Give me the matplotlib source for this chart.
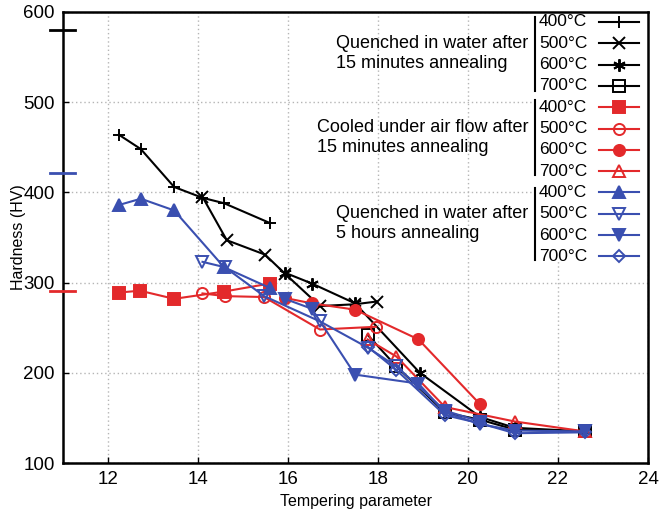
import matplotlib
matplotlib.use('Agg')
import matplotlib.pyplot as plt
from matplotlib.lines import Line2D
from matplotlib.patches import Rectangle

plt.rcParams['font.family'] = ['Liberation Sans', 'DejaVu Sans']

# --- data ---
temps = ['400°C', '500°C', '600°C', '700°C']
group_lines = [
    ['Quenched in water after', '15 minutes annealing'],
    ['Cooled under air flow after', '15 minutes annealing'],
    ['Quenched in water after', '5 hours annealing'],
]

# quenched in water after 15 min annealing (black)
q15_400_x = [12.24, 12.73, 13.47, 14.10, 14.58, 15.60]
q15_400_y = [464, 448, 406, 394, 388, 366]
q15_500_x = [14.10, 14.64, 15.49, 15.93, 16.71, 17.49, 17.97]
q15_500_y = [395, 347, 331, 310, 274, 276, 279]
q15_600_x = [15.93, 16.53, 17.49, 18.93, 20.27, 21.04, 22.60]
q15_600_y = [311, 299, 277, 200, 151, 139, 135]
q15_700_x = [17.77, 18.41, 19.49, 20.27, 21.04, 22.60]
q15_700_y = [242, 207, 156, 148, 137, 135]

# cooled under air flow after 15 min annealing (red)
a15_400_x = [12.25, 12.71, 13.47, 14.57, 15.60]
a15_400_y = [289, 291, 282, 290, 299]
a15_500_x = [14.10, 14.60, 15.47, 16.71, 17.95]
a15_500_y = [288, 285, 284, 248, 251]
a15_600_x = [15.93, 16.53, 17.49, 18.90, 20.27]
a15_600_y = [283, 277, 270, 237, 165]
a15_700_x = [17.77, 18.41, 19.49, 21.04, 22.60]
a15_700_y = [237, 218, 162, 146, 135]

# quenched in water after 5 h annealing (blue)
q5_400_x = [12.24, 12.73, 13.47, 14.58, 15.60]
q5_400_y = [386, 393, 380, 317, 294]
q5_500_x = [14.10, 14.60, 15.47, 16.71, 17.77, 18.41, 19.49, 20.27]
q5_500_y = [323, 317, 285, 257, 228, 207, 158, 146]
q5_600_x = [15.93, 16.53, 17.49, 18.90, 19.49, 20.27, 21.04, 22.60]
q5_600_y = [282, 271, 198, 188, 156, 143, 136, 135]
q5_700_x = [17.77, 18.41, 19.49, 20.27, 21.04, 22.60]
q5_700_y = [229, 203, 153, 144, 133, 134]

# as-quenched hardness marks on the left axis
ref_y = [580, 421, 291]

BLACK = 'black'
RED = '#e3292b'
BLUE = '#3a4fb0'

series = [
    (q15_400_x, q15_400_y, BLACK, '+', BLACK),
    (q15_500_x, q15_500_y, BLACK, 'x', BLACK),
    (q15_600_x, q15_600_y, BLACK, (6, 2, 0), BLACK),
    (q15_700_x, q15_700_y, BLACK, 's', 'none'),
    (a15_400_x, a15_400_y, RED, 's', RED),
    (a15_500_x, a15_500_y, RED, 'o', 'none'),
    (a15_600_x, a15_600_y, RED, 'o', RED),
    (a15_700_x, a15_700_y, RED, '^', 'none'),
    (q5_400_x, q5_400_y, BLUE, '^', BLUE),
    (q5_500_x, q5_500_y, BLUE, 'v', 'none'),
    (q5_600_x, q5_600_y, BLUE, 'v', BLUE),
    (q5_700_x, q5_700_y, BLUE, 'D', 'none'),
]
ref_colors = [BLACK, BLUE, RED]

fig = plt.figure(figsize=(6.61, 5.13), dpi=100)
ax = fig.add_axes([63 / 661, 1 - 463 / 513, 585 / 661, 451 / 513])

def msize(m):
    if m == 'D':
        return 6
    if m in ('+', 'x', (6, 2, 0)):
        return 9
    return 8

for x, y, c, m, fc in series:
    ax.plot(x, y, color=c, lw=1.5, marker=m, markersize=msize(m),
            markerfacecolor=fc, markeredgecolor=c, markeredgewidth=1.4, zorder=3)

for yv, c in zip(ref_y, ref_colors):
    ax.plot([10.71, 11.26], [yv, yv], color=c, lw=2, clip_on=False, zorder=4)

ax.set_xlim(11, 24)
ax.set_ylim(100, 600)
ax.set_xticks([12, 14, 16, 18, 20, 22, 24])
ax.set_yticks([100, 200, 300, 400, 500, 600])
ax.tick_params(direction='in', length=4, width=1, labelsize=13.5, pad=6)
ax.grid(True, color='#b5b5b5', linestyle=(0, (1, 2)), lw=1)
ax.set_axisbelow(True)
for s in ax.spines.values():
    s.set_linewidth(1.8)
ax.set_xlabel('Tempering parameter', fontsize=11.5, labelpad=4)
ax.set_ylabel('Hardness (HV)', fontsize=11.5)


# --- hand made legend, pixel positions converted to axes fraction ---
def fx(px):
    return (px - 63) / 585

def fy(py):
    return 1 - (py - 12) / 451

ax.yaxis.set_label_coords(fx(26), 0.5)

ax.add_patch(Rectangle((fx(532), fy(262)), 1 - fx(532), 1 - fy(262),
                       transform=ax.transAxes, facecolor='white',
                       edgecolor='none', zorder=2.5))

row0, pitch = 22, 21.3
for i, (x, y, c, m, fc) in enumerate(series):
    yr = fy(row0 + i * pitch)
    ax.text(fx(539), yr, temps[i % 4], transform=ax.transAxes, fontsize=12.5,
            va='center', ha='left', zorder=5)
    ax.add_line(Line2D([fx(599), fx(639)], [yr, yr], transform=ax.transAxes,
                       color=c, lw=1.5, zorder=5))
    ax.add_line(Line2D([fx(619)], [yr], transform=ax.transAxes, marker=m,
                       markersize=msize(m), markerfacecolor=fc,
                       markeredgecolor=c, markeredgewidth=1.4, zorder=5))

bars = [(17, 91), (100, 175), (188, 260)]
text_left = [336, 317, 336]
text_y = [(43, 63), (128, 148), (213, 233)]
for (b0, b1), tx, ty, lines in zip(bars, text_left, text_y, group_lines):
    ax.add_line(Line2D([fx(535), fx(535)], [fy(b0), fy(b1)],
                       transform=ax.transAxes, color='black', lw=1.5, zorder=5))
    for yy, s in zip(ty, lines):
        ax.text(fx(tx), fy(yy), s, transform=ax.transAxes, fontsize=13,
                va='center', ha='left', zorder=5)

fig.savefig('out.png', dpi=100)
